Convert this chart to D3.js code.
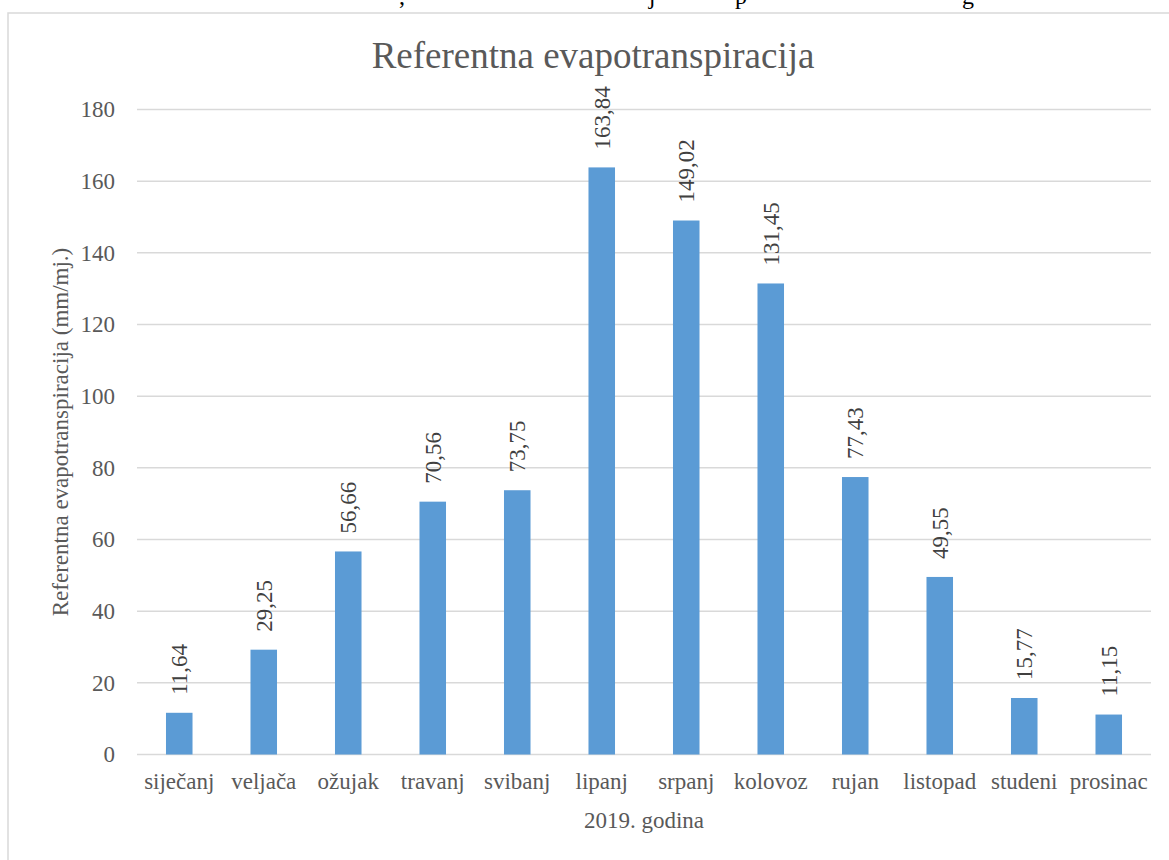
<!DOCTYPE html>
<html><head><meta charset="utf-8">
<script src="https://cdn.jsdelivr.net/npm/d3@7"></script>
<style>body{margin:0;background:#fff;}svg{display:block;font-family:"Liberation Serif","Times New Roman",serif;}</style>
</head><body>
<svg id="c" width="1169" height="860"></svg>
<script>
const months = ["siječanj","veljača","ožujak","travanj","svibanj","lipanj","srpanj","kolovoz","rujan","listopad","studeni","prosinac"];
const values = [11.64,29.25,56.66,70.56,73.75,163.84,149.02,131.45,77.43,49.55,15.77,11.15];
const yTicks = [0,20,40,60,80,100,120,140,160,180];
const title = "Referentna evapotranspiracija";
const yTitle = "Referentna evapotranspiracija (mm/mj.)";
const xTitle = "2019. godina";
const fmt = v => v.toFixed(2).replace(".", ",");

const svg = d3.select("#c");
const L = 137, R = 1151, T = 109.5, B = 754.5;

// cut-off caption descenders from page above
const topGlyphs = [[402, ","],[652, "j"],[741, "p"],[968, "g"]];
svg.selectAll("text.cap").data(topGlyphs).join("text")
  .attr("x", d => d[0]).attr("y", 4).attr("font-size", 24).attr("fill", "#000")
  .attr("text-anchor", "middle").text(d => d[1]);

// chart border
svg.append("rect").attr("x", 8).attr("y", 13).attr("width", 1180).attr("height", 900)
  .attr("fill", "#fff").attr("stroke", "#d9d9d9").attr("stroke-width", 1.5);

const x = d3.scaleBand().domain(months).range([L, R]).paddingInner(0.686).paddingOuter(0.343);
const y = d3.scaleLinear().domain([0, 180]).range([B, T]);

// gridlines
svg.append("g").selectAll("line").data(yTicks).join("line")
  .attr("x1", L).attr("x2", R).attr("y1", d => y(d)).attr("y2", d => y(d))
  .attr("stroke", "#d9d9d9").attr("stroke-width", 1.5);

// y axis labels
const yAxis = svg.append("g").attr("transform", `translate(${L},0)`)
  .call(d3.axisLeft(y).tickValues(yTicks).tickSize(0).tickPadding(22));
yAxis.select(".domain").remove();
yAxis.selectAll("text").attr("font-size", 23).attr("fill", "#595959")
  .attr("font-family", "Liberation Serif");

// bars
svg.append("g").selectAll("rect").data(values).join("rect")
  .attr("x", (d, i) => x(months[i])).attr("width", x.bandwidth())
  .attr("y", d => y(d)).attr("height", d => B - y(d))
  .attr("fill", "#5b9bd5");

// x axis labels
const xAxis = svg.append("g").attr("transform", `translate(0,${B})`)
  .call(d3.axisBottom(x).tickSize(0).tickPadding(18));
xAxis.select(".domain").remove();
xAxis.selectAll("text").attr("font-size", 23).attr("fill", "#595959")
  .attr("font-family", "Liberation Serif");

// data labels
svg.append("g").selectAll("text").data(values).join("text")
  .attr("transform", (d, i) => `translate(${x(months[i]) + x.bandwidth()/2 + 8},${y(d) - 18}) rotate(-90)`)
  .attr("font-size", 23).attr("fill", "#404040").text(d => fmt(d));

// title
svg.append("text").attr("x", 593).attr("y", 68).attr("text-anchor", "middle")
  .attr("font-size", 37).attr("fill", "#595959").text(title);

// axis titles
svg.append("text").attr("transform", `translate(68,${(T + B)/2}) rotate(-90)`)
  .attr("text-anchor", "middle").attr("font-size", 23).attr("fill", "#595959").text(yTitle);
svg.append("text").attr("x", (L + R)/2).attr("y", 828).attr("text-anchor", "middle")
  .attr("font-size", 23).attr("fill", "#595959").text(xTitle);
</script>
</body></html>
